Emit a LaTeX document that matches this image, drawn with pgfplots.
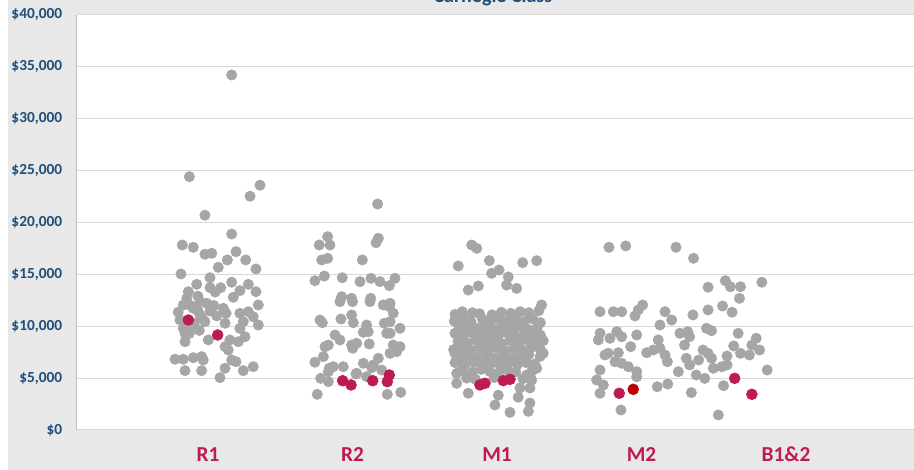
\documentclass[border=0pt]{standalone}
\usepackage{fontspec}
\setmainfont{Carlito}
\usepackage{pgfplots}
\pgfplotsset{compat=1.18}
\definecolor{bggray}{HTML}{E8E8E8}
\definecolor{dotgray}{HTML}{A6A6A6}
\definecolor{hilite}{HTML}{BE1B50}
\definecolor{darkred}{HTML}{C00000}
\definecolor{tickblue}{HTML}{1F4E79}
\definecolor{gridgray}{HTML}{D9D9D9}
\definecolor{axisgray}{HTML}{BFBFBF}
\begin{document}
\begin{tikzpicture}
\useasboundingbox (-57.75pt,-30pt) rectangle (627.75pt,322.5pt);
\clip (-57.75pt,-30pt) rectangle (627.75pt,322.5pt);
\fill[bggray] (-51.75pt,-30pt) rectangle (627.75pt,322.5pt);
\begin{axis}[
    at={(0,0)}, anchor=south west,
    scale only axis,
    width=627.75pt, height=311.25pt,
    xmin=0.0934, xmax=5.886,
    ymin=0, ymax=40000,
    axis background/.style={fill=white},
    axis lines=left,
    axis line style={-},
    x axis line style={draw=gridgray, line width=0.75pt},
    y axis line style={draw=axisgray, line width=0.75pt},
    major tick length=0pt,
    ymajorgrids,
    grid style={draw=gridgray, line width=0.75pt},
    scaled y ticks=false,
    xtick={1,2,3,4,5},
    xticklabels={R1,R2,M1,M2,B1\&2},
    ytick={0,5000,10000,15000,20000,25000,30000,35000,40000},
    yticklabels={{\$0},{\$5,000},{\$10,000},{\$15,000},{\$20,000},{\$25,000},{\$30,000},{\$35,000},{\$40,000}},
    yticklabel style={font=\bfseries\fontsize{11.5}{12}\selectfont, text=tickblue, inner sep=0pt, anchor=east, xshift=-11pt},
    xticklabel style={font=\bfseries\fontsize{16}{16}\selectfont, text=hilite, anchor=base, yshift=-24pt},
]

% R1
\addplot[only marks, mark=*, mark size=3.9pt, color=dotgray] coordinates {
(1.164,34220) (0.871,24420) (1.360,23590) (1.291,22530) (0.979,20700) (1.164,18890)
(0.822,17830) (0.898,17610) (0.979,16940) (1.026,17030) (1.194,17190) (1.134,16390)
(1.261,16390) (1.071,15680) (1.332,15520) (0.813,15040) (1.014,14680) (0.922,14040)
(1.164,14240) (1.279,14040) (1.014,13720) (1.088,13720) (0.864,13330) (1.221,13430)
(1.332,13330) (0.853,12690) (1.175,12790) (0.945,12370) (0.991,12210) (0.829,12050)
(1.348,12050) (0.898,11730) (1.106,11730) (0.794,11350) (1.014,11470) (1.221,11250)
(1.279,11400) (0.945,11090) (1.125,11250) (1.313,10920) (0.806,10600) (0.979,10440)
(1.244,10440) (1.348,10120) (1.118,10290) (0.829,9800) (0.898,9800) (1.221,9800)
(0.841,9320) (1.002,8680) (1.256,8990) (1.152,8680) (1.210,8510) (0.841,8510)
(1.118,8030) (1.140,7710) (0.772,6820) (0.829,6820) (0.898,6970) (0.956,7070)
(0.967,6750) (1.164,6750) (1.194,6580) (0.841,5720) (0.956,5720) (1.118,5950)
(1.244,5720) (1.313,6100) (1.083,5040)
(0.880,12000) (0.930,11500) (0.960,10800) (0.905,10300) (0.870,9300) (0.930,12900)
(1.040,12000) (1.060,11000) (1.050,13300) (0.940,9600)
};
% R2
\addplot[only marks, mark=*, mark size=3.9pt, color=dotgray] coordinates {
(2.174,21780) (1.828,18630) (2.179,18480) (2.163,18050) (1.770,17830) (1.844,17830)
(1.787,16390) (1.828,16550) (2.068,16390)
(1.740,14390) (1.805,14840) (1.929,14680) (2.052,14300) (2.128,14620) (2.190,14300)
(2.255,13910) (2.294,14620) (1.925,12850) (1.994,12690) (2.126,12690) (2.260,12210)
(1.913,12370) (2.000,12370) (2.121,12370) (2.213,12050) (2.255,11890) (2.282,11250)
(1.775,10600) (1.791,10340) (1.920,10700) (1.994,11090) (2.006,10340) (2.098,10120)
(2.109,9470) (2.075,9420) (2.220,10290) (2.260,10440) (2.329,9800) (2.237,9320)
(2.260,9320) (1.879,9160) (1.913,8680) (1.833,8190) (1.994,8190) (2.029,8360)
(2.116,8290) (2.282,8190) (2.306,7550) (2.260,7390) (2.329,8030) (1.810,8030)
(2.001,7880) (2.179,6910) (2.144,6270) (1.740,6530) (1.798,7070) (1.867,6100)
(1.833,5620) (1.839,5950) (1.936,6100) (2.029,5470) (2.024,5400) (2.075,6430)
(2.098,5140) (2.133,6010) (2.202,5780) (1.780,4980) (1.833,4660)
(1.756,3440) (2.241,3440) (2.334,3630)
};
% M1
\addplot[only marks, mark=*, mark size=3.9pt, color=dotgray] coordinates {
(2.825,17830) (2.860,17510) (2.732,15810) (2.947,16320) (3.178,16130) (3.275,16320)
(2.963,15100) (3.014,15420) (3.078,14750) (2.801,13490) (2.871,13880) (3.067,13970)
(3.136,13650) (3.309,12050)
(2.721,4500) (2.801,3540) (2.986,2410) (3.090,1700) (3.217,1800) (3.228,2600)
(3.147,3160) (3.009,3350) (3.228,4050) (3.159,4050) (3.206,5300) (3.275,5950)
(3.298,7090) (3.320,7390) (2.721,5460) (2.756,6260) (2.709,7390) (2.744,8190)
(2.709,9320) (2.756,9640)
(2.710,11150) (2.760,11400) (2.830,11300) (2.880,11200) (2.965,11100) (3.030,11350)
(3.095,11250) (3.160,11400) (3.220,11300) (3.290,11500)
(2.705,10500) (2.770,10750) (2.820,10450) (2.900,10650) (2.950,10400) (3.010,10700)
(3.070,10500) (3.130,10650) (3.190,10450) (3.250,10700) (3.300,10350)
(2.740,9900) (2.800,10050) (2.860,9800) (2.920,10000) (2.980,9750) (3.040,10050)
(3.100,9850) (3.160,10000) (3.215,9700) (3.280,9950)
(2.770,9150) (2.830,9350) (2.890,9100) (2.950,9300) (3.010,9150) (3.060,9400)
(3.120,9200) (3.180,9050) (3.240,9300) (3.300,9150)
(2.730,8550) (2.790,8400) (2.850,8650) (2.910,8450) (2.970,8600) (3.030,8350)
(3.090,8600) (3.150,8450) (3.210,8650) (3.270,8400) (3.320,8600)
(2.700,7750) (2.760,7900) (2.820,7700) (2.880,7950) (2.940,7750) (3.000,7900)
(3.060,7650) (3.120,7850) (3.180,7700) (3.240,7950) (3.300,7800)
(2.740,7100) (2.800,7250) (2.860,7000) (2.920,7200) (2.980,6950) (3.040,7150)
(3.100,6900) (3.160,7100) (3.220,7250)
(2.710,6500) (2.780,6350) (2.840,6550) (2.900,6300) (2.960,6450) (3.020,6250)
(3.080,6500) (3.140,6300) (3.200,6500) (3.260,6350)
(2.760,5750) (2.830,5600) (2.890,5850) (2.950,5650) (3.010,5500) (3.070,5800)
(3.130,5600) (3.240,5650)
(2.790,5000) (2.850,4900) (2.980,5050) (3.180,4950) (3.240,4800)
};
% M2
\addplot[only marks, mark=*, mark size=3.9pt, color=dotgray] coordinates {
(3.775,17610) (3.891,17740) (4.239,17610)
(3.713,11400) (3.805,11400) (3.863,11400) (3.955,10990) (3.978,11570) (4.008,12050)
(4.163,11400) (4.209,10600) (4.128,10120) (4.266,9320) (3.713,9320) (3.701,8680)
(3.782,8840) (3.829,9480) (3.863,8990) (3.967,9160) (4.116,8680) (3.925,8030)
(3.770,7390) (3.840,7450) (4.036,7450) (4.082,7710) (4.128,7880) (4.163,7230)
(4.179,6580) (3.817,6580) (3.863,6430) (3.909,6100) (3.967,5620) (3.967,5140)
(3.713,5780) (3.690,4820) (3.736,4340) (3.713,3540) (4.255,5620) (4.109,4170)
(4.182,4430) (3.858,1930) (3.747,7230)
};
% B1&2
\addplot[only marks, mark=*, mark size=3.9pt, color=dotgray] coordinates {
(4.360,16550) (4.461,13760) (4.580,14390) (4.615,13810) (4.685,13810) (4.678,12690)
(4.833,14240) (4.356,11090) (4.461,11570) (4.561,11950) (4.627,11350) (4.320,9480)
(4.333,8990) (4.450,9800) (4.485,9570) (4.669,9320) (4.298,8190) (4.638,8100)
(4.685,7390) (4.747,7230) (4.764,8190) (4.794,8840) (4.817,7710) (4.310,6910)
(4.333,6270) (4.396,6750) (4.426,7710) (4.461,7390) (4.485,6910) (4.592,7130)
(4.497,5950) (4.556,6100) (4.592,6270) (4.379,5300) (4.438,4980) (4.870,5780)
(4.568,4270) (4.345,3600) (4.532,1450)
};
% highlighted institutions
\addplot[only marks, mark=*, mark size=4.1pt, color=hilite] coordinates {
(0.864,10600) (1.067,9160)
(1.932,4750) (1.990,4340) (2.140,4750) (2.241,4660) (2.255,5300)
(2.882,4340) (2.917,4500) (3.044,4760) (3.090,4880)
(3.846,3540)
(4.645,4980) (4.764,3440)
};
\addplot[only marks, mark=*, mark size=4.1pt, color=darkred] coordinates {
(3.943,3920)
};
\end{axis}
\node[anchor=base, font=\bfseries\fontsize{15}{16}\selectfont, text=tickblue] at (312pt,320.25pt) {Carnegie Class};
\end{tikzpicture}
\end{document}
